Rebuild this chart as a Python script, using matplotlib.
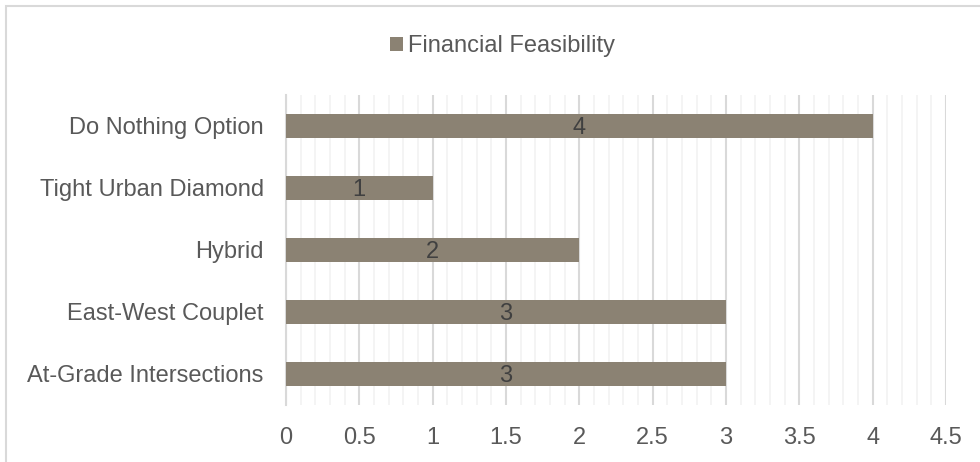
import matplotlib.pyplot as plt
from matplotlib.patches import Rectangle
import numpy as np

# Data
options = ["At-Grade Intersections", "East-West Couplet", "Hybrid",
           "Tight Urban Diamond", "Do Nothing Option"]
scores = [3, 3, 2, 1, 4]
series_name = "Financial Feasibility"

plt.rcParams['font.family'] = ['Liberation Sans', 'DejaVu Sans']

fig = plt.figure(figsize=(9.8, 4.62), dpi=100)
ax = fig.add_axes([0.2918, 0.1234, 0.9653 - 0.2918, 0.7944 - 0.1234])

bar_color = "#8B8273"
y = np.arange(len(options))
bars = ax.barh(y, scores, height=0.4, color=bar_color, label=series_name, zorder=3)

# Value labels in the bar centres
for b, v in zip(bars, scores):
    ax.text(v / 2, b.get_y() + b.get_height() / 2, str(v), ha="center", va="center_baseline",
            fontsize=17, color="#404040", zorder=4)

ax.set_xlim(0, 4.5)
ax.set_ylim(-0.5, len(options) - 0.5)
ax.set_yticks(y)
ax.set_yticklabels(options)
ax.set_xticks(np.arange(0, 4.51, 0.5))
ax.set_xticklabels(["0", "0.5", "1", "1.5", "2", "2.5", "3", "3.5", "4", "4.5"])
ax.set_xticks(np.arange(0, 4.51, 0.1), minor=True)
ax.tick_params(axis="both", which="both", length=0, labelsize=17, labelcolor="#595959")
ax.tick_params(axis="x", pad=16)
ax.tick_params(axis="y", pad=16)

# Grid lines
ax.grid(axis="x", which="major", color="#D9D9D9", linewidth=1.5, zorder=1)
ax.grid(axis="x", which="minor", color="#F2F2F2", linewidth=1.2, zorder=0)
ax.grid(axis="y", visible=False)
for s in ["top", "right", "bottom"]:
    ax.spines[s].set_visible(False)
ax.spines["left"].set_color("#D9D9D9")
ax.spines["left"].set_linewidth(1.5)

# Legend at top centre
fig.legend(loc="center", bbox_to_anchor=(0.513, 0.9), frameon=False, fontsize=17,
           handlelength=0.55, handleheight=0.55, handletextpad=0.2, labelcolor="#595959")

# Chart area border
fig.patches.append(Rectangle((6 / 980, -0.1), 1.2, 1 - 6 / 462 + 0.1,
                             transform=fig.transFigure, fill=False,
                             edgecolor="#D9D9D9", linewidth=1.5))

fig.savefig("out.png", dpi=100)
